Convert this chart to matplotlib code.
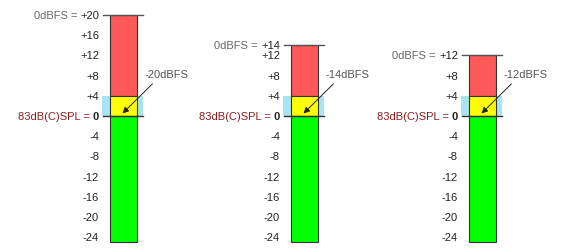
import matplotlib.pyplot as plt
from matplotlib.offsetbox import AnchoredText

plt.rcParams['font.family'] = ['Liberation Sans', 'DejaVu Sans']

# meter data
centers = [123.5, 304.5, 482.5]
tops = [20, 14, 12]
bottom = -25
warn = 4
arrow_labels = ['-20dBFS', '-14dBFS', '-12dBFS']
tick_sets = [
    [20, 16, 12, 8, 4, 0, -4, -8, -12, -16, -20, -24],
    [14, 12, 8, 4, 0, -4, -8, -12, -16, -20, -24],
    [12, 8, 4, 0, -4, -8, -12, -16, -20, -24],
]

fig = plt.figure(figsize=(5.8, 2.53), dpi=100)
ax = fig.add_axes([0, 0, 1, 1])
ax.set_xlim(0, 580)
ax.set_ylim(-26.93, 23.17)
ax.axis('off')

w = 27
for c, top, lab, ticks in zip(centers, tops, arrow_labels, tick_sets):
    # light blue band behind
    ax.bar(c - 1, warn, width=41, bottom=0, color='#a8e4f6', zorder=1)
    ax.bar(c, top - warn, width=w, bottom=warn, color='#ff5858', edgecolor='#333333', lw=0.8, zorder=2)
    ax.bar(c, warn, width=w, bottom=0, color='#ffff00', edgecolor='#333333', lw=0.8, zorder=2)
    ax.bar(c, -bottom, width=w, bottom=bottom, color='#00ff00', edgecolor='#333333', lw=0.8, zorder=2)
    ax.plot([c - 20.5, c + 19.5], [top, top], color='#555555', lw=1, zorder=3)
    ax.plot([c - 20.5, c + 19.5], [0, 0], color='#333333', lw=1, zorder=3)

    xl = c - w / 2 - 11
    for t in ticks:
        s = '0' if t == 0 else ('%+d' % t)
        txt = ax.text(xl, t, s, ha='right', va='center', fontsize=8,
                      color='#222222', fontweight='bold' if t == 0 else 'normal')
        if t == top:
            ax.annotate('0dBFS = ', xy=(0, 0.5), xycoords=txt, ha='right', va='center',
                        fontsize=8, color='#666666')
        if t == 0:
            ax.annotate('83dB(C)SPL = ', xy=(0, 0.5), xycoords=txt, ha='right', va='center',
                        fontsize=8, color='#8b2020')

    ax.annotate(lab, xy=(c - 1, 0.5), xytext=(c + w / 2 + 29, 8.3),
                ha='center', va='center', fontsize=8, color='#555555',
                arrowprops=dict(arrowstyle='-|>', color='#222222', lw=0.7,
                                mutation_scale=9, relpos=(0.3, 0), shrinkA=2, shrinkB=0),
                zorder=4)

fig.savefig('out.png', dpi=100)
